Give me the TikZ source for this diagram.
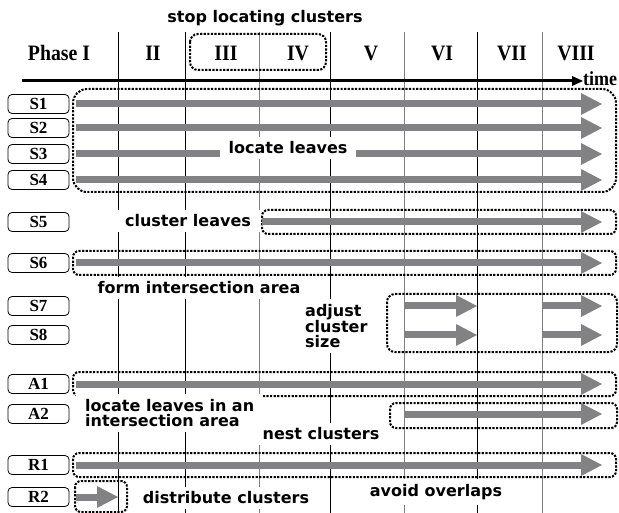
\documentclass[tikz,border=0pt]{standalone}
\usepackage{fontspec}
\newfontfamily\hdfont[FakeStretch=0.9]{Liberation Serif}
\newfontfamily\rowfont{Liberation Serif}
\newfontfamily\labfont{DejaVu Sans}
\usetikzlibrary{arrows.meta,positioning,calc}
\definecolor{flowgray}{RGB}{130,130,132}
\definecolor{gridgray}{RGB}{128,128,128}
\tikzset{
  phase/.style   = {font=\hdfont\bfseries\fontsize{22}{22}\selectfont, inner sep=0pt},
  row/.style     = {draw, rounded corners=4pt, line width=0.8pt, minimum width=61pt, minimum height=19pt, inner sep=0pt, font=\rowfont\bfseries\fontsize{17}{17}\selectfont},
  flow/.style    = {draw=flowgray, line width=7pt, -{Triangle[length=21pt,width=22pt,line width=0pt 0 0]}},
  axis/.style    = {line width=3pt, -{Triangle[length=11pt,width=10pt,line width=0pt 0 0]}},
  group/.style   = {draw, line width=2pt, dash pattern=on 2.2pt off 1.4pt, rounded corners=6pt},
  note/.style    = {fill=white, font=\labfont\bfseries\fontsize{16}{15}\selectfont, inner xsep=9pt, inner ysep=5pt},
  grid line/.style = {line width=1pt}
}

\begin{document}
\begin{tikzpicture}[x=1pt, y=-1pt]
      \useasboundingbox (0,0) rectangle (619,513);
      %Phase borders
      \coordinate (bottom) at (0,513);
      \foreach \i/\x/\c in {2/118/black, 3/185/black, 4/259/gridgray, 5/330/black, 6/404/gridgray, 7/477/black, 8/542/gridgray}{
        \coordinate (b\i) at (\x,32);
        \draw[grid line, \c] (b\i) -- (b\i |- bottom);
      }
      \coordinate (tend) at (602,0);
      %Phases
      \foreach \lab/\x/\n in {Phase I/59/1, II/153/2, III/226/3, IV/298/4, V/371/5, VI/442/6, VII/512/7, VIII/576/8}
        \node[phase] (ph\n) at (\x,53) {\lab};
      \node[font=\labfont\bfseries\fontsize{16}{16}\selectfont, inner sep=0pt] (stop) at (265,18) {stop locating clusters};
      \draw[group, rounded corners=8pt] (190,34) rectangle (326,70);
      %Time axis
      \coordinate (origin) at (22,81);
      \node[font=\hdfont\bfseries\fontsize{20}{20}\selectfont, inner sep=0pt, anchor=west] (time) at (583,79) {time};
      \draw[axis] (origin) -- (origin -| time.west);
      %Rows
      \node[row] (s1) at (38.5,104) {S1};
      \node[row] (s2) at (38.5,128) {S2};
      \node[row] (s3) at (38.5,154) {S3};
      \node[row] (s4) at (38.5,180) {S4};
      \node[row] (s5) at (38.5,222) {S5};
      \node[row] (s6) at (38.5,263) {S6};
      \node[row] (s7) at (38.5,306) {S7};
      \node[row] (s8) at (38.5,335) {S8};
      \node[row] (a1) at (38.5,384) {A1};
      \node[row] (a2) at (38.5,414) {A2};
      \node[row] (r1) at (38.5,465) {R1};
      \node[row] (r2) at (38.5,497) {R2};
      %Groups
      \draw[group, rounded corners=14pt] (73,89) rectangle (616,192);
      \draw[group] (262,210) rectangle (616,234);
      \draw[group] (73,251) rectangle (616,275);
      \draw[group, rounded corners=8pt] (387,294) rectangle (617,352);
      \draw[group] (73,372) rectangle (616,396);
      \draw[group] (390,403) rectangle (617,428);
      \draw[group] (73,453) rectangle (616,477);
      \draw[group] (75,481) rectangle (127,512);
      %Flows
      \foreach \r in {s1,s2,s3,s4,s6,a1,r1}
        \draw[flow] ([xshift=7pt]\r.east) -- (\r -| tend);
      \draw[flow] ([xshift=3pt]s5 -| b4) -- (s5 -| tend);
      \foreach \r in {s7,s8}{
        \draw[flow] (\r -| b6) -- (\r -| b7);
        \draw[flow] (\r -| b8) -- (\r -| tend);
      }
      \draw[flow] (a2 -| b6) -- (a2 -| tend);
      \draw[flow] ([xshift=7pt]r2.east) -- (r2 -| b2);
      %Labels
      \node[note] (locate) at (288,148) {locate leaves};
      \node[note] (cluster) at (188,221) {cluster leaves};
      \node[note] (form) at (199,288) {form intersection area};
      \node[note, align=left, anchor=west] (adjust) at (296,326) {adjust\\cluster\\size};
      \node[note, align=left, anchor=west] (inarea) at (76,413) {locate leaves in an\\intersection area};
      \node[note] (nest) at (321,434) {nest clusters};
      \node[note] (distribute) at (226,498) {distribute clusters};
      \node[note] (avoid) at (436,492) {avoid overlaps};
\end{tikzpicture}
\end{document}
